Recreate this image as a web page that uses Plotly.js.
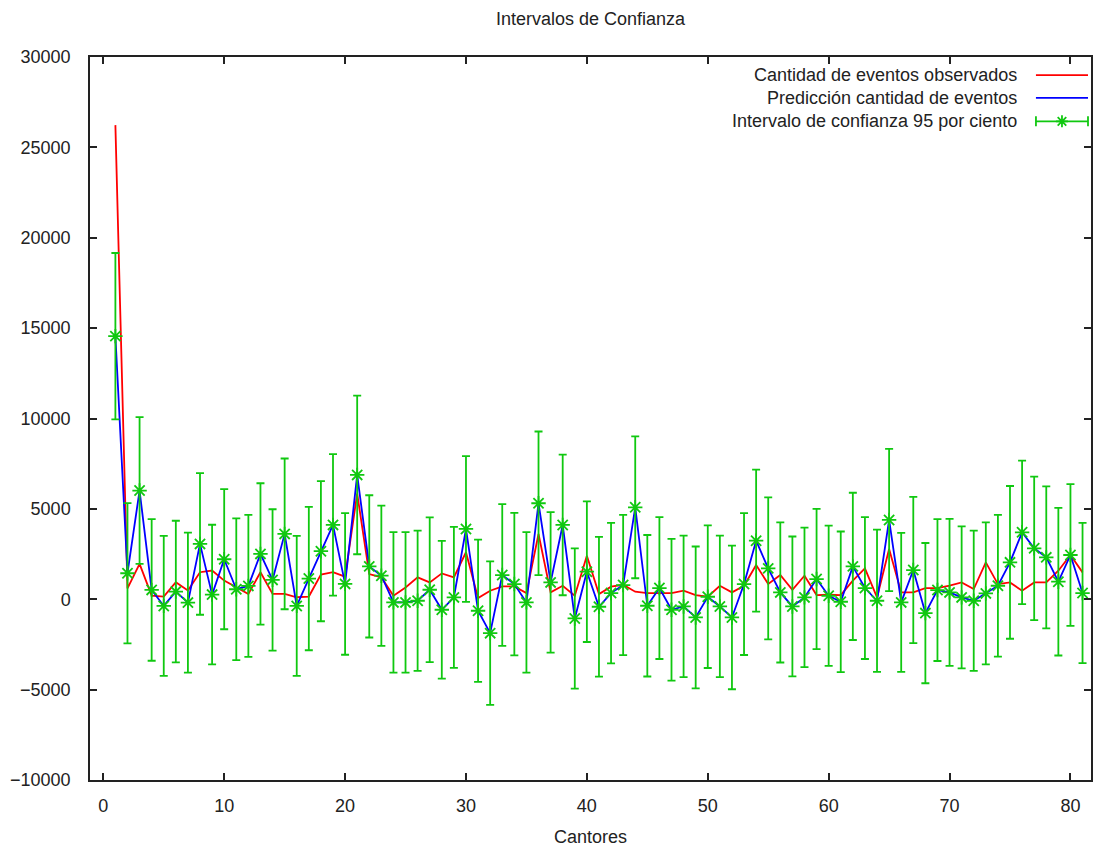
<!DOCTYPE html>
<html>
<head>
<meta charset="utf-8">
<script src="https://cdn.plot.ly/plotly-3.0.1.min.js"></script>
<style>html,body{margin:0;padding:0;background:#fff}#chart{width:1105px;height:850px}</style>
</head>
<body>
<div id="chart"></div>
<script>
// Cantor index 1..81
var cantores = [];
for (var i = 1; i <= 81; i++) cantores.push(i);

// Observed number of events (red)
var observados = [
 26230, 600, 1956, 200, 150, 940, 480, 1495, 1587, 1033,
 664, 295, 1495, 295, 295, 110, 150, 1365, 1495, 1250,
 5845, 1395, 1210, 194, 655, 1210, 933, 1431, 1210, 2600,
 65, 471, 711, 711, 342, 3611, 379, 748, 194, 2411,
 286, 693, 803, 416, 342, 342, 342, 471, 231, 139,
 748, 379, 748, 1893, 840, 1339, 526, 1302, 231, 250,
 231, 1025, 1708, 102, 2780, 379, 379, 619, 619, 748,
 933, 563, 2041, 840, 933, 471, 933, 933, 1579, 2448,
 1487
];

// Predicted number of events (blue)
var prediccion = [
 14557, 1439, 6015, 517, -369, 424, -185, 3063, 258, 2214,
 554, 738, 2509, 1070, 3616, -369, 1144, 2657, 4114, 849,
 6880, 1819, 1302, -175, -175, -83, 526, -582, 102, 3888,
 -637, -1875, 1339, 840, -175, 5310, 933, 4110, -1062, 1524,
 -416, 342, 785, 5088, -360, 619, -582, -397, -1007, 139,
 -397, -1007, 840, 3241, 1708, 379, -397, 102, 1117, 194,
 -139, 1819, 619, -83, 4386, -175, 1616, -767, 508, 379,
 102, -83, 323, 748, 2041, 3703, 2817, 2318, 970, 2448,
 342
];

// Half-width of the 95% confidence interval (green error bars)
var intervalo = [
 4600, 3875, 4060, 3920, 3875, 3920, 3875, 3920, 3865, 3875,
 3920, 3930, 3910, 3910, 4170, 3875, 3965, 3875, 3910, 3920,
 4390, 3935, 3877, 3888, 3888, 3878, 4000, 3814, 3897, 4035,
 3934, 3971, 3923, 3943, 3888, 3971, 3888, 3888, 3879, 3888,
 3870, 3888, 3878, 3925, 3915, 3925, 3925, 3915, 3925, 3943,
 3916, 3971, 3925, 3925, 3925, 3879, 3870, 3860, 3879, 3879,
 3888, 4073, 3925, 3934, 3934, 3842, 4045, 3879, 3925, 4064,
 3925, 3878, 3925, 3925, 4225, 3970, 3971, 3925, 4081, 3925,
 3879
];

var legendNames = [
 "Cantidad de eventos observados",
 "Predicción cantidad de eventos",
 "Intervalo de confianza 95 por ciento"
];

var RED = "#ff0000", BLUE = "#0000ff", GREEN = "#10c810";
var FONT = "Liberation Sans, Arial, sans-serif";
var TXT = "#222222";
var FS = 18;

var traces = [
 {x: cantores, y: observados, type: "scatter", mode: "lines", name: legendNames[0],
  line: {color: RED, width: 1.8}, showlegend: false},
 {x: cantores, y: prediccion, type: "scatter", mode: "lines", name: legendNames[1],
  line: {color: BLUE, width: 1.8}, showlegend: false},
 {x: cantores, y: prediccion, type: "scatter", mode: "markers", name: legendNames[2],
  marker: {symbol: "asterisk-open", size: 12, color: GREEN, line: {color: GREEN, width: 1.8}},
  error_y: {type: "data", array: intervalo, visible: true, color: GREEN, thickness: 1.8, width: 4},
  showlegend: false}
];

// custom gnuplot-style legend: text right-aligned, sample on the right
var rows = [0.975, 0.9435, 0.911];
var txtX = 0.928, s0 = 0.945, s1 = 0.997;
var annotations = [];
var shapes = [];
for (var k = 0; k < 3; k++) {
  annotations.push({xref: "paper", yref: "paper", x: txtX, y: rows[k], xanchor: "right", yanchor: "middle",
    text: legendNames[k], showarrow: false, font: {family: FONT, size: FS, color: TXT}});
}
shapes.push({type: "line", xref: "paper", yref: "paper", x0: s0, x1: s1, y0: rows[0], y1: rows[0], line: {color: RED, width: 1.8}});
shapes.push({type: "line", xref: "paper", yref: "paper", x0: s0, x1: s1, y0: rows[1], y1: rows[1], line: {color: BLUE, width: 1.8}});
shapes.push({type: "line", xref: "paper", yref: "paper", x0: s0, x1: s1, y0: rows[2], y1: rows[2], line: {color: GREEN, width: 1.8}});
[s0, s1].forEach(function (sx) {
  shapes.push({type: "line", xref: "paper", yref: "paper", ysizemode: "pixel", yanchor: rows[2],
    x0: sx, x1: sx, y0: -5, y1: 5, line: {color: GREEN, width: 1.8}});
});
shapes.push({type: "path", xref: "paper", yref: "paper", xsizemode: "pixel", ysizemode: "pixel",
  xanchor: (s0 + s1) / 2, yanchor: rows[2],
  path: "M-6,0L6,0M0,-6L0,6M-4.3,-4.3L4.3,4.3M-4.3,4.3L4.3,-4.3", line: {color: GREEN, width: 1.8}});

var layout = {
  width: 1105, height: 850,
  margin: {l: 90, r: 14, t: 57, b: 70},
  paper_bgcolor: "#ffffff", plot_bgcolor: "#ffffff",
  font: {family: FONT, size: FS, color: TXT},
  title: {text: "Intervalos de Confianza", x: 0.5, xref: "paper", y: 0.978, yref: "container",
          yanchor: "middle", font: {family: FONT, size: FS, color: TXT}},
  xaxis: {
    range: [-1.1, 81.7], tick0: 0, dtick: 10, ticks: "inside", ticklen: 7, tickwidth: 1.5,
    tickcolor: "#222", showline: true, linecolor: "#222", linewidth: 1.5, mirror: "ticks",
    showgrid: false, zeroline: false, ticklabelstandoff: 9, tickformat: "d",
    tickfont: {family: FONT, size: FS, color: TXT},
    title: {text: "Cantores", standoff: 15, font: {family: FONT, size: FS, color: TXT}}
  },
  yaxis: {
    range: [-10000, 30000], tick0: 0, dtick: 5000, ticks: "inside", ticklen: 7, tickwidth: 1.5,
    tickcolor: "#222", showline: true, linecolor: "#222", linewidth: 1.5, mirror: "ticks",
    showgrid: false, zeroline: false, ticklabelstandoff: 14, tickformat: "d", separatethousands: false,
    tickfont: {family: FONT, size: FS, color: TXT}
  },
  showlegend: false,
  annotations: annotations,
  shapes: shapes
};

Plotly.newPlot("chart", traces, layout, {displayModeBar: false, responsive: false});
</script>
</body>
</html>
